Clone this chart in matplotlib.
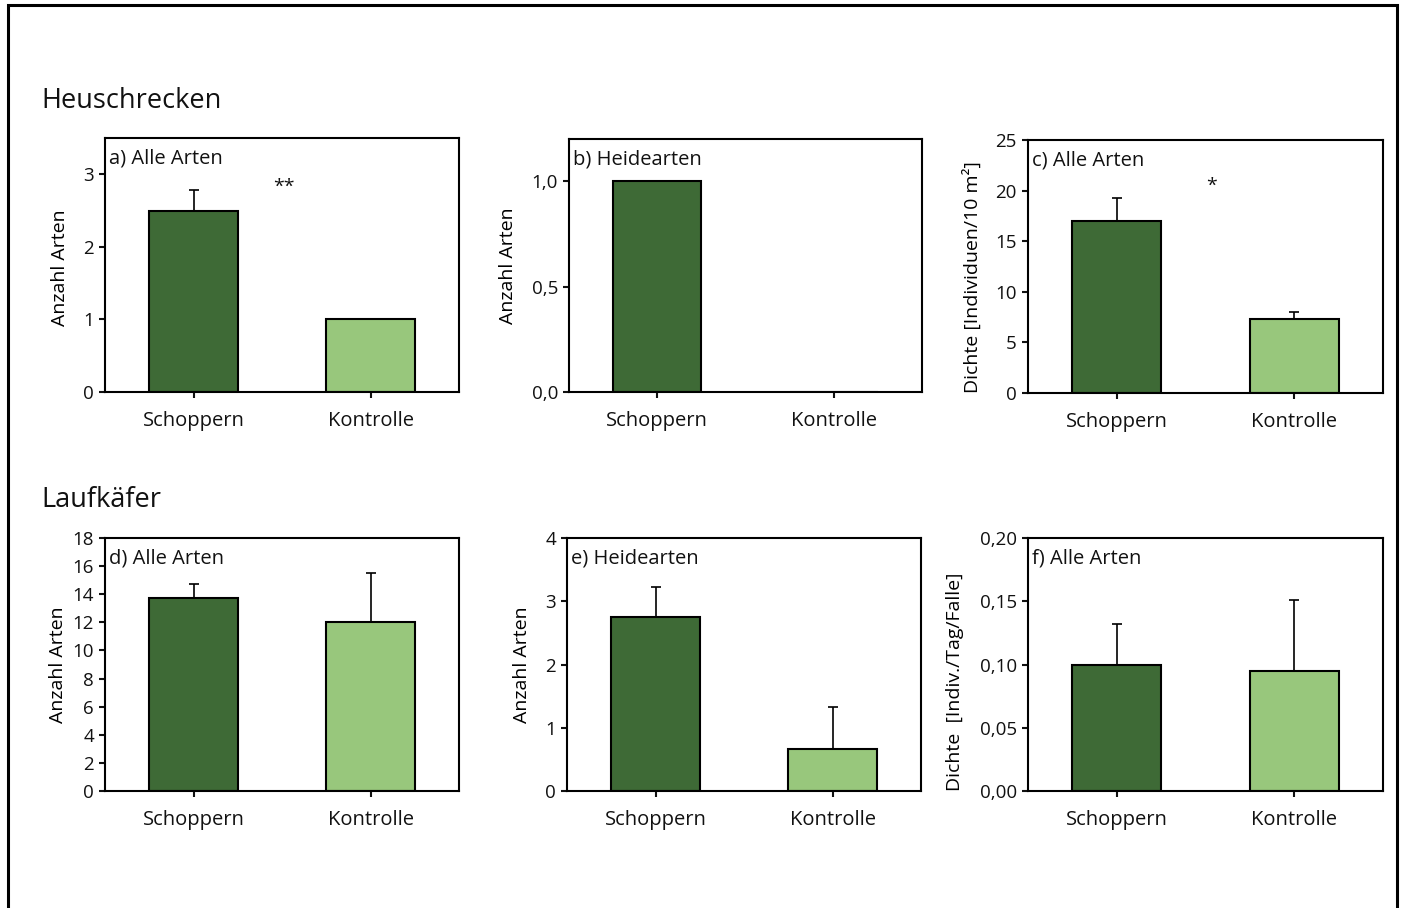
import matplotlib.pyplot as plt
from matplotlib.patches import Rectangle

plt.rcParams['font.family'] = ['Open Sans', 'DejaVu Sans']
plt.rcParams['text.color'] = '#111111'
plt.rcParams['xtick.color'] = '#111111'
plt.rcParams['ytick.color'] = '#111111'

groups = ["Schoppern", "Kontrolle"]

# Heuschrecken
a_mean = [2.5, 1.0]
a_err = [0.29, 0.0]
b_mean = [1.0, 0.0]
b_err = [0.0, 0.0]
c_mean = [17.0, 7.35]
c_err = [2.3, 0.7]

# Laufkaefer
d_mean = [13.75, 12.0]
d_err = [1.0, 3.5]
e_mean = [2.75, 0.67]
e_err = [0.48, 0.66]
f_mean = [0.100, 0.095]
f_err = [0.032, 0.056]

a_ticks = [0, 1, 2, 3]
b_ticks = [0.0, 0.5, 1.0]
b_ticklabels = ["0,0", "0,5", "1,0"]
c_ticks = [0, 5, 10, 15, 20, 25]
d_ticks = [0, 2, 4, 6, 8, 10, 12, 14, 16, 18]
e_ticks = [0, 1, 2, 3, 4]
f_ticks = [0.0, 0.05, 0.10, 0.15, 0.20]
f_ticklabels = ["0,00", "0,05", "0,10", "0,15", "0,20"]

colors = ["#3e6a36", "#98c77c"]

W, H = 1402, 908
fig = plt.figure(figsize=(W / 100, H / 100), dpi=100)


def px_axes(left, top, right, bottom):
    return fig.add_axes([left / W, 1 - bottom / H, (right - left) / W, (bottom - top) / H])


def panel(box, means, errs, ylim, ticks, ticklabels, label, ylabel, ylab_dx, ylab_y=0.5):
    ax = px_axes(*box)
    x = list(range(len(groups)))
    ax.bar(x, means, width=0.5, color=colors, edgecolor="black", linewidth=1.5, zorder=2)
    for xi, m, e in zip(x, means, errs):
        if e > 0:
            ax.errorbar(xi, m, yerr=[[0], [e]], fmt="none", ecolor="black",
                        elinewidth=1.2, capsize=3.5, capthick=1.2, zorder=1)
    ax.set_xlim(-0.5, 1.5)
    ax.set_ylim(*ylim)
    ax.set_xticks(x)
    ax.set_xticklabels(groups, fontsize=14.5)
    ax.set_yticks(ticks)
    ax.set_yticklabels(ticklabels, fontsize=13.5)
    ax.tick_params(axis="x", length=4, width=1.5, pad=10)
    ax.tick_params(axis="y", length=4, width=1.5, pad=4)
    for s in ax.spines.values():
        s.set_linewidth(1.5)
    ax.text(0.012, 0.92, label, transform=ax.transAxes, fontsize=14.5, va="center", ha="left")
    ax.set_ylabel(ylabel, fontsize=14, va="center")
    ax.yaxis.set_label_coords(-ylab_dx / (box[2] - box[0]), ylab_y)
    return ax


ax_a = panel((105, 138, 459, 392), a_mean, a_err, (0, 3.5), a_ticks, [str(t) for t in a_ticks],
             "a) Alle Arten", "Anzahl Arten", 45, 0.49)
ax_a.text(0.51, 2.83, "**", fontsize=14, ha="center", va="center")

panel((569, 139, 922, 392), b_mean, b_err, (0, 1.2), b_ticks, b_ticklabels,
      "b) Heidearten", "Anzahl Arten", 61)

ax_c = panel((1028, 140, 1383, 393), c_mean, c_err, (0, 25), c_ticks, [str(t) for t in c_ticks],
             "c) Alle Arten", "Dichte [Individuen/10 m²]", 56, 0.46)
ax_c.text(0.535, 20.5, "*", fontsize=14, ha="center", va="center")

panel((105, 538, 459, 791), d_mean, d_err, (0, 18), d_ticks, [str(t) for t in d_ticks],
      "d) Alle Arten", "Anzahl Arten", 47)

panel((567, 538, 921, 791), e_mean, e_err, (0, 4), e_ticks, [str(t) for t in e_ticks],
      "e) Heidearten", "Anzahl Arten", 45)

panel((1028, 538, 1383, 791), f_mean, f_err, (0, 0.2), f_ticks, f_ticklabels,
      "f) Alle Arten", "Dichte  [Indiv./Tag/Falle]", 73, 0.43)

fig.text(41 / W, 1 - 108 / H, "Heuschrecken", fontsize=19.5, ha="left", va="baseline")
fig.text(41 / W, 1 - 507 / H, "Laufkäfer", fontsize=19.5, ha="left", va="baseline")

# outer frame, open at the bottom edge of the picture
fig.patches.append(Rectangle((8 / W, -0.05), (1397 - 8) / W, 1.05 - 5 / H,
                             transform=fig.transFigure, fill=False,
                             edgecolor="black", linewidth=2.2))

fig.savefig("out.png", dpi=100)
plt.close(fig)
